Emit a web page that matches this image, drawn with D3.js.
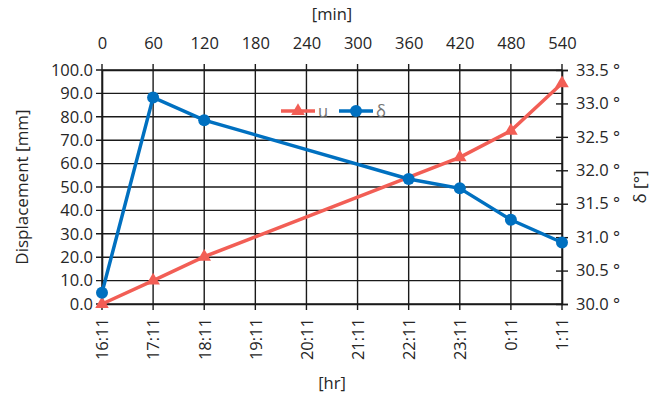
<!DOCTYPE html>
<html>
<head>
<meta charset="utf-8">
<script src="https://cdn.jsdelivr.net/npm/d3@7"></script>
<style>
  body { margin: 0; background: #fff; }
  text { font-family: "Open Sans", sans-serif; fill: #262626; }
</style>
</head>
<body>
<div class="graph-container"></div>
<script>
// data
var minutes = [0, 60, 120, 180, 240, 300, 360, 420, 480, 540];
var hourLabels = ["16:11", "17:11", "18:11", "19:11", "20:11", "21:11", "22:11", "23:11", "0:11", "1:11"];
var uMinutes = [0, 60, 120, 420, 480, 540];
var uValues = [0.0, 10.0, 20.2, 62.7, 74.0, 94.3];
var dMinutes = [0, 60, 120, 360, 420, 480, 540];
var dValues = [30.17, 33.09, 32.75, 31.87, 31.73, 31.26, 30.92];
var leftTicks = [0, 10, 20, 30, 40, 50, 60, 70, 80, 90, 100];
var rightTicks = [30.0, 30.5, 31.0, 31.5, 32.0, 32.5, 33.0, 33.5];

var width = 665, height = 397;
var margin = { top: 70, left: 102, bottom: 93, right: 103 };
var fontSize = "16.5px";

var svg = d3.select(".graph-container").append("svg")
    .attr("width", width)
    .attr("height", height);

var x = d3.scaleLinear().domain([0, 540]).range([margin.left, width - margin.right]);
var y = d3.scaleLinear().domain([0, 100]).range([height - margin.bottom, margin.top]);
var y2 = d3.scaleLinear().domain([30, 33.5]).range([height - margin.bottom, margin.top]);

var gridColor = "#1a1a1a";

// gridlines
svg.append("g").selectAll("line")
    .data(leftTicks)
    .enter().append("line")
    .attr("x1", x(0) - 6).attr("x2", x(540))
    .attr("y1", d => y(d)).attr("y2", d => y(d))
    .attr("stroke", gridColor).attr("stroke-width", 1.4);

svg.append("g").selectAll("line")
    .data(minutes)
    .enter().append("line")
    .attr("x1", d => x(d)).attr("x2", d => x(d))
    .attr("y1", y(100) - 6).attr("y2", y(0) + 6)
    .attr("stroke", gridColor).attr("stroke-width", 1.4);

// left axis
var yAxis = d3.axisLeft(y).tickValues(leftTicks).tickSize(0).tickPadding(9).tickFormat(d => d.toFixed(1));
svg.append("g")
    .attr("transform", "translate(" + margin.left + ",0)")
    .call(yAxis)
    .call(g => g.select(".domain").attr("stroke", gridColor).attr("stroke-width", 1.6))
    .selectAll("text").style("font-size", fontSize).attr("fill", "#262626");

// right axis
var y2Axis = d3.axisRight(y2).tickValues(rightTicks).tickSize(6).tickPadding(8).tickFormat(d => d.toFixed(1) + " °");
svg.append("g")
    .attr("transform", "translate(" + (width - margin.right) + ",0)")
    .call(y2Axis)
    .call(g => g.select(".domain").attr("stroke", gridColor).attr("stroke-width", 1.6))
    .call(g => g.selectAll(".tick line").attr("stroke", gridColor).attr("stroke-width", 1.4).attr("x1", -6))
    .selectAll("text").style("font-size", fontSize).attr("fill", "#262626");

// top axis (minutes)
var xTop = d3.axisTop(x).tickValues(minutes).tickSize(0).tickPadding(21);
svg.append("g")
    .attr("transform", "translate(0," + margin.top + ")")
    .call(xTop)
    .call(g => g.select(".domain").attr("stroke", gridColor).attr("stroke-width", 1.6))
    .selectAll("text").style("font-size", fontSize).attr("fill", "#262626");

// bottom axis (hours)
var xBottom = d3.axisBottom(x).tickValues(minutes).tickSize(0).tickFormat((d, i) => hourLabels[i]);
svg.append("g")
    .attr("transform", "translate(0," + (height - margin.bottom) + ")")
    .call(xBottom)
    .call(g => g.select(".domain").attr("stroke", gridColor).attr("stroke-width", 1.6))
    .selectAll("text")
    .style("font-size", fontSize).attr("fill", "#262626")
    .style("text-anchor", "end")
    .attr("y", 0).attr("dy", "0.35em")
    .attr("transform", "translate(0,14) rotate(-90)");

// axis titles
svg.append("text").attr("x", x(270)).attr("y", 20).attr("text-anchor", "middle")
    .style("font-size", fontSize).text("[min]");
svg.append("text").attr("x", x(270)).attr("y", 389).attr("text-anchor", "middle")
    .style("font-size", fontSize).text("[hr]");
svg.append("text").attr("transform", "translate(28," + y(50) + ") rotate(-90)")
    .attr("text-anchor", "middle").style("font-size", "17px").text("Displacement [mm]");
svg.append("text").attr("transform", "translate(646," + y(50) + ") rotate(-90)")
    .attr("text-anchor", "middle").style("font-size", "17px").text("δ [°]");

var red = "#f25e55", blue = "#0070c0";

// u series
var uData = uMinutes.map((m, i) => ({ m: m, v: uValues[i] }));
svg.append("path")
    .datum(uData)
    .attr("fill", "none").attr("stroke", red).attr("stroke-width", 3.5)
    .attr("d", d3.line().x(d => x(d.m)).y(d => y(d.v)));
svg.append("g").selectAll("path")
    .data(uData)
    .enter().append("path")
    .attr("d", d3.symbol().type(d3.symbolTriangle).size(80))
    .attr("transform", d => "translate(" + x(d.m) + "," + y(d.v) + ")")
    .attr("fill", red);

// delta series
var dData = dMinutes.map((m, i) => ({ m: m, v: dValues[i] }));
svg.append("path")
    .datum(dData)
    .attr("fill", "none").attr("stroke", blue).attr("stroke-width", 3.5)
    .attr("d", d3.line().x(d => x(d.m)).y(d => y2(d.v)));
svg.append("g").selectAll("circle")
    .data(dData)
    .enter().append("circle")
    .attr("cx", d => x(d.m)).attr("cy", d => y2(d.v))
    .attr("r", 6)
    .attr("fill", blue);

// legend
var legend = svg.append("g").attr("transform", "translate(281,111)");
legend.append("line").attr("x1", 0).attr("x2", 34).attr("stroke", red).attr("stroke-width", 3.5);
legend.append("path").attr("d", d3.symbol().type(d3.symbolTriangle).size(80))
    .attr("transform", "translate(17,0)").attr("fill", red);
legend.append("text").attr("x", 37).attr("y", 0).attr("dy", "0.35em")
    .style("font-size", fontSize).style("fill", "#777").text("u");
legend.append("line").attr("x1", 58).attr("x2", 92).attr("stroke", blue).attr("stroke-width", 3.5);
legend.append("circle").attr("cx", 75).attr("cy", 0).attr("r", 6).attr("fill", blue);
legend.append("text").attr("x", 95).attr("y", 0).attr("dy", "0.35em")
    .style("font-size", fontSize).style("fill", "#777").text("δ");
</script>
</body>
</html>
